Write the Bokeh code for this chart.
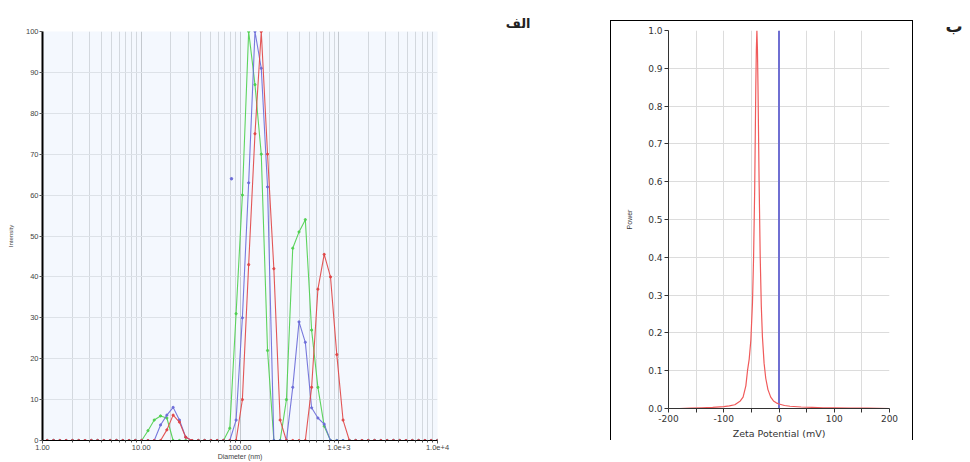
from bokeh.plotting import figure
from bokeh.models import Range1d, FixedTicker, Spacer, Title
from bokeh.layouts import row, column
from bokeh.embed import file_html
from bokeh.resources import INLINE

# ---------------- data: size distribution (left panel) ----------------
diameter_nm = [1.117, 1.294, 1.499, 1.736, 2.010, 2.328, 2.696, 3.122, 3.615, 4.187,
               4.849, 5.615, 6.503, 7.531, 8.721, 10.10, 11.70, 13.54, 15.69, 18.17,
               21.04, 24.36, 28.21, 32.67, 37.84, 43.82, 50.75, 58.77, 68.06, 78.82,
               91.28, 105.7, 122.4, 141.8, 164.2, 190.1, 220.2, 255.0, 295.3, 342.0,
               396.1, 458.7, 531.2, 615.1, 712.4, 825.0, 955.4, 1106, 1281, 1484,
               1718, 1990, 2305, 2669, 3091, 3580, 4145, 4801, 5560, 6439,
               7456, 8635, 10000]

green_intensity = [0, 0, 0, 0, 0, 0, 0, 0, 0, 0,
                   0, 0, 0, 0, 0, 0, 2.4, 5.0, 6.0, 5.5,
                   0, 0, 0, 0, 0, 0, 0, 0, 0, 3.0,
                   31, 60, 100, 87, 70, 22, 0, 0, 10, 47,
                   51, 54, 27, 13, 3.5, 0, 0, 0, 0, 0,
                   0, 0, 0, 0, 0, 0, 0, 0, 0, 0,
                   0, 0, 0]

blue_intensity = [0, 0, 0, 0, 0, 0, 0, 0, 0, 0,
                  0, 0, 0, 0, 0, 0, 0, 0, 3.8, 6.2,
                  8.1, 5.0, 0.8, 0, 0, 0, 0, 0, 0, 0,
                  5, 30, 63, 100, 91, 62, 0, 0, 0, 13,
                  29, 24, 8, 5.5, 4, 0, 0, 0, 0, 0,
                  0, 0, 0, 0, 0, 0, 0, 0, 0, 0,
                  0, 0, 0]

red_intensity = [0, 0, 0, 0, 0, 0, 0, 0, 0, 0,
                 0, 0, 0, 0, 0, 0, 0, 0, 0, 2.6,
                 6.2, 4.5, 0.8, 0, 0, 0, 0, 0, 0, 0,
                 0, 10, 43, 75, 100, 70, 42, 5, 0, 0,
                 0, 0, 13, 37, 45.5, 40, 21, 5, 0, 0,
                 0, 0, 0, 0, 0, 0, 0, 0, 0, 0,
                 0, 0, 0]

blue_stray_d = [82]
blue_stray_i = [64]

size_ticks = [1, 10, 100, 1000, 10000]
size_tick_labels = ["1.00", "10.00", "100.00", "1.0e+3", "1.0e+4"]
intensity_ticks = [0, 10, 20, 30, 40, 50, 60, 70, 80, 90, 100]

# ---------------- data: zeta potential (right panel) ----------------
zeta_mv = [-180, -160, -140, -120, -100, -90, -80, -70, -65, -60, -57, -54, -51, -48,
           -46, -44, -42, -41, -40, -39, -38, -36, -34, -32, -30, -27, -24, -20,
           -15, -10, -5, 0, 10, 20, 40, 60, 80, 100, 130, 160, 200]
zeta_power = [0.0, 0.001, 0.002, 0.003, 0.005, 0.007, 0.01, 0.02, 0.03, 0.06, 0.10, 0.13,
              0.18, 0.28, 0.40, 0.58, 0.85, 0.95, 1.0, 0.95, 0.85, 0.60, 0.40, 0.27,
              0.19, 0.12, 0.08, 0.05, 0.03, 0.02, 0.015, 0.012, 0.008, 0.006, 0.004,
              0.003, 0.002, 0.002, 0.001, 0.001, 0.0]
zero_line_x = [0, 0]
zero_line_y = [0, 1]

zeta_ticks = [-200, -100, 0, 100, 200]
zeta_minor_ticks = [-150, -50, 50, 150]
zeta_tick_labels = ["-200", "-100", "0", "100", "200"]
power_ticks = [0.0, 0.1, 0.2, 0.3, 0.4, 0.5, 0.6, 0.7, 0.8, 0.9, 1.0]
power_tick_labels = ["0.0", "0.1", "0.2", "0.3", "0.4", "0.5", "0.6", "0.7", "0.8", "0.9", "1.0"]

panel_a_label = "الف"
panel_b_label = "ب"

GREEN = "#4ccf4c"
BLUE = "#6a6ad8"
RED = "#e04444"

# ---------------- left figure ----------------
p1 = figure(width=610, height=462, x_axis_type="log",
            x_range=Range1d(1, 10000), y_range=Range1d(0, 100),
            min_border_left=42, min_border_right=173, min_border_top=31, min_border_bottom=21,
            output_backend="svg", toolbar_location=None, title=None)
p1.background_fill_color = "#f4f8fe"
p1.border_fill_color = "white"
p1.outline_line_color = None
p1.add_layout(Title(text=panel_a_label, align="right", offset=-93, standoff=2,
                    text_font="DejaVu Sans", text_font_style="bold",
                    text_font_size="13px", text_color="#222"), "above")

minor_log = [m * 10 ** k for k in range(0, 4) for m in range(2, 10)]
p1.xaxis.ticker = FixedTicker(ticks=size_ticks, minor_ticks=minor_log)
p1.xaxis.major_label_overrides = {t: s for t, s in zip(size_ticks, size_tick_labels)}
p1.yaxis.ticker = FixedTicker(ticks=intensity_ticks)

p1.xgrid.grid_line_color = "#c4c9cf"
p1.xgrid.minor_grid_line_color = "#d3d8de"
p1.ygrid.grid_line_color = "#dde2e8"

for ax in (p1.xaxis[0], p1.yaxis[0]):
    ax.axis_line_color = "black"
    ax.major_tick_line_color = "#555"
    ax.minor_tick_line_color = "#555"
    ax.major_tick_out = 3
    ax.major_tick_in = 0
    ax.minor_tick_out = 2
    ax.minor_tick_in = 0
    ax.major_label_text_font = "Liberation Sans"
    ax.major_label_text_font_size = "7.5px"
    ax.major_label_text_color = "#444"
    ax.major_label_standoff = 1
    ax.axis_label_text_font = "Liberation Sans"
    ax.axis_label_text_font_style = "normal"
    ax.axis_label_text_color = "#444"
p1.yaxis.axis_line_width = 2
p1.yaxis.minor_tick_line_color = None
p1.xaxis.axis_label = "Diameter (nm)"
p1.xaxis.axis_label_text_font_size = "7px"
p1.xaxis.axis_label_standoff = 0
p1.yaxis.axis_label = "Intensity"
p1.yaxis.axis_label_text_font_size = "6px"
p1.yaxis.axis_label_standoff = 9

for ys, col in ((green_intensity, GREEN), (blue_intensity, BLUE), (red_intensity, RED)):
    p1.line(diameter_nm, ys, line_color=col, line_width=1.1, line_alpha=0.9)
    p1.scatter(diameter_nm, ys, size=2.2, color=col, alpha=0.9)
p1.scatter(blue_stray_d, blue_stray_i, size=2.5, color=BLUE)

# ---------------- right figure ----------------
p2 = figure(width=303, height=420, x_range=Range1d(-200, 200), y_range=Range1d(0, 1),
            min_border_left=57, min_border_right=25, min_border_top=9, min_border_bottom=31,
            output_backend="svg", toolbar_location=None, title=None,
            styles={"border-left": "1px solid #000", "border-top": "1px solid #000",
                    "border-right": "1px solid #000"})
p2.outline_line_color = None
p2.xaxis.ticker = FixedTicker(ticks=zeta_ticks, minor_ticks=zeta_minor_ticks)
p2.xaxis.major_label_overrides = {t: s for t, s in zip(zeta_ticks, zeta_tick_labels)}
p2.yaxis.ticker = FixedTicker(ticks=power_ticks)
p2.yaxis.major_label_overrides = {t: s for t, s in zip(power_ticks, power_tick_labels)}
p2.xgrid.grid_line_color = "#dcdcdc"
p2.xgrid.minor_grid_line_color = "#dcdcdc"
p2.ygrid.grid_line_color = "#dcdcdc"
for ax in (p2.xaxis[0], p2.yaxis[0]):
    ax.axis_line_color = "#333"
    ax.major_tick_line_color = "#333"
    ax.minor_tick_line_color = "#333"
    ax.major_tick_out = 4
    ax.major_tick_in = 0
    ax.minor_tick_out = 4
    ax.minor_tick_in = 0
    ax.major_label_text_font = "DejaVu Sans"
    ax.major_label_text_font_size = "9px"
    ax.major_label_text_color = "#333"
    ax.major_label_standoff = 2
    ax.axis_label_text_font_style = "normal"
    ax.axis_label_text_color = "#333"
p2.yaxis.minor_tick_line_color = None
p2.xaxis.axis_label = "Zeta Potential (mV)"
p2.xaxis.axis_label_text_font = "DejaVu Sans"
p2.xaxis.axis_label_text_font_size = "9.5px"
p2.xaxis.axis_label_standoff = 3
p2.yaxis.axis_label = "Power"
p2.yaxis.axis_label_text_font = "Liberation Sans"
p2.yaxis.axis_label_text_font_size = "7px"
p2.yaxis.axis_label_standoff = 12

p2.line(zero_line_x, zero_line_y, line_color="#6f6fd2", line_width=2)
p2.line(zeta_mv, zeta_power, line_color="#f05a5a", line_width=1.2)

# ---------------- Arabic label "be" ----------------
pb = figure(width=50, height=80, x_range=Range1d(0, 50), y_range=Range1d(0, 80),
            x_axis_location=None, y_axis_location=None, min_border=0, min_border_top=31,
            title=None, output_backend="svg", toolbar_location=None)
pb.grid.visible = False
pb.outline_line_color = None
pb.add_layout(Title(text=panel_b_label, align="left", offset=30, standoff=0,
                    text_font="DejaVu Sans", text_font_style="bold",
                    text_font_size="17px", text_color="#222"), "above")

layout = row(p1, column(Spacer(width=305, height=20), p2), column(Spacer(width=50, height=4), pb))
open("out.html", "w").write(file_html(layout, INLINE))
